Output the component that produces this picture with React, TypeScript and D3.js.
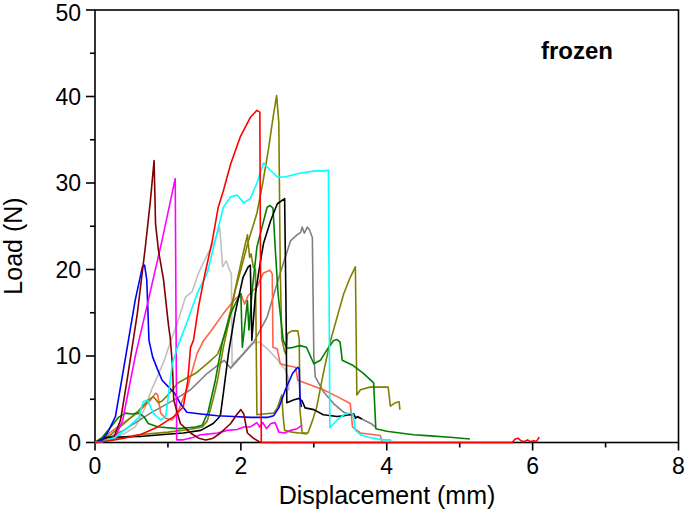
import React from "react";
import * as d3 from "d3";

type Pt = [number, number];

// Displacement (mm), Load (N)
const brown: Pt[] = [[0,0],[0.15,0.2],[0.26,0.6],[0.35,2.6],[0.44,7.2],[0.58,14.9],[0.69,22.6],[0.76,28],[0.81,32.6],[0.83,25.3],[0.87,22.2],[0.94,18.8],[0.99,14.9],[1.01,13.4],[1.03,12.2],[1.06,9.1],[1.08,4.9],[1.17,2.2],[1.31,1.1],[1.42,0.5],[1.52,0.3],[1.62,0.5],[1.72,1.1],[1.86,2.2],[1.95,3.3],[2.0,3.8],[2.04,3.3],[2.09,1.1],[2.17,0.5],[2.27,0]];
const magenta: Pt[] = [[0,0],[0.1,0.1],[0.2,0.3],[0.28,0.6],[0.38,2.6],[0.55,9.9],[0.73,16.4],[0.92,23.4],[1.1,30.5],[1.12,0.3],[1.2,0.3],[1.35,0.6],[1.45,0.9],[1.58,1.0],[1.68,1.1],[1.81,1.4],[1.95,1.5],[2.04,1.8],[2.13,1.8],[2.22,2.3],[2.26,1.8],[2.3,2.3],[2.35,1.6],[2.41,2.2],[2.47,2.3],[2.52,1.2],[2.6,1.1],[2.68,1.4],[2.77,1.6],[2.84,2.0]];
const blue: Pt[] = [[0,0],[0.1,0.3],[0.17,1.1],[0.28,3],[0.42,9.9],[0.55,16.4],[0.65,20.3],[0.68,20.5],[0.71,18.8],[0.74,11.8],[0.79,9.9],[0.86,8.4],[0.92,7.2],[1.01,6.4],[1.1,5.6],[1.17,4.5],[1.26,3.5],[1.45,3.3],[1.68,3.1],[1.9,3.0],[2.13,2.9],[2.36,2.9],[2.45,3.1],[2.52,4.0],[2.61,6.1],[2.71,8.0],[2.78,8.7],[2.8,8.5],[2.81,5.3],[2.83,4.1]];
const red: Pt[] = [[0,0],[0.2,0.2],[0.4,0.5],[0.62,0.9],[0.86,1.8],[1.08,3.0],[1.21,4.1],[1.27,7],[1.31,11.0],[1.35,11.8],[1.42,15.7],[1.51,19.6],[1.61,23.4],[1.69,27.2],[1.76,29.1],[1.86,32.2],[1.99,35.3],[2.13,37.6],[2.22,38.4],[2.26,38.2],[2.28,0],[5.72,0],[5.76,0.4],[5.8,0.5],[5.84,0.2],[5.88,0.1],[5.93,0.3],[5.97,0.1],[6.02,0.2],[6.05,0.1],[6.09,0.6]];
const cyan: Pt[] = [[0,0],[0.1,0.1],[0.28,0.6],[0.46,1.8],[0.6,2.9],[0.66,4.7],[0.72,4.9],[0.8,3.4],[0.9,2.6],[0.97,3.0],[1.01,5.7],[1.06,9.1],[1.13,11.0],[1.27,14.1],[1.40,17.2],[1.54,19.6],[1.68,24.5],[1.76,27.2],[1.86,28.4],[1.95,28.6],[2.04,27.7],[2.13,28.2],[2.22,30],[2.31,32.3],[2.4,31.5],[2.5,30.7],[2.6,30.7],[2.79,31.1],[3.02,31.4],[3.16,31.4],[3.2,31.5],[3.22,1.7],[3.32,2.6],[3.41,3.2],[3.5,3.4],[3.54,3.2],[3.57,1.4],[3.64,0.9],[3.75,0.6],[3.95,0.3],[4.05,0.3],[4.07,0]];
const oliveA: Pt[] = [[0,0],[0.3,0.5],[0.6,0.9],[1.0,1.2],[1.3,1.5],[1.47,1.8],[1.54,2.5],[1.62,5],[1.68,7.2],[1.76,11],[1.85,14.5],[1.92,17.5],[2.0,20],[2.1,23.2],[2.22,26.5],[2.3,30],[2.38,34],[2.44,37.5],[2.49,40.1],[2.52,37],[2.54,20],[2.56,12],[2.6,10.5],[2.62,10.2],[2.64,12.6],[2.7,12.9],[2.78,12.9],[2.8,12],[2.81,3.8],[2.84,1.1],[2.92,1.1],[2.98,2.5],[3.04,4.1],[3.13,8.0],[3.22,11.5],[3.32,14.5],[3.41,17.2],[3.5,19.1],[3.57,20.3],[3.59,5.5],[3.64,6.1],[3.77,6.4],[4.02,6.4],[4.05,4.2],[4.12,4.6],[4.17,4.7],[4.18,3.8]];
const oliveB: Pt[] = [[0,0],[0.2,0.8],[0.4,2.2],[0.6,3.7],[0.73,4.9],[0.8,5.3],[0.87,4.6],[0.92,4.8],[1.0,5.5],[1.14,6.9],[1.38,8.0],[1.55,9.2],[1.68,10.2],[1.77,12.2],[1.86,15.3],[1.95,18.8],[2.04,22.2],[2.09,24],[2.12,21.4],[2.14,21.8],[2.17,20.3],[2.2,20],[2.22,3.2],[2.3,3.3],[2.45,3.4],[2.5,4.0],[2.56,5.5],[2.58,3],[2.6,1.4],[2.7,1.2],[2.8,1.1],[2.91,1.0]];
const green: Pt[] = [[0,0],[0.1,0.6],[0.18,1.4],[0.32,2.9],[0.42,3.4],[0.5,3.3],[0.6,3.4],[0.67,3.0],[0.73,2.2],[0.87,1.8],[1.15,1.6],[1.38,1.8],[1.47,2.0],[1.55,3.5],[1.65,7.2],[1.75,11.8],[1.86,14.9],[1.95,16.5],[2.0,17.2],[2.02,11],[2.09,16.4],[2.11,13],[2.16,18],[2.22,22.6],[2.29,24.9],[2.36,27.2],[2.4,27.4],[2.44,27.1],[2.47,22.6],[2.51,17.2],[2.58,11.8],[2.63,10.9],[2.72,11.0],[2.81,11.2],[2.9,11],[3.0,9.1],[3.09,9.5],[3.18,10.7],[3.27,11.8],[3.32,11.9],[3.36,11.6],[3.39,9.5],[3.54,8.9],[3.68,8.0],[3.82,6.9],[3.85,1.6],[4.0,1.3],[4.18,1.1],[4.37,0.9],[4.55,0.8],[4.87,0.6],[5.14,0.4]];
const black: Pt[] = [[0,0],[0.17,0.6],[0.62,0.7],[0.9,0.9],[1.21,1.1],[1.45,1.4],[1.62,2.2],[1.69,2.8],[1.72,3.2],[1.76,5.7],[1.83,10.3],[1.92,14.9],[2.03,19.1],[2.1,20.3],[2.13,20.5],[2.15,11.8],[2.2,17.2],[2.25,20],[2.31,23],[2.41,25.7],[2.5,27.6],[2.6,28.2],[2.62,14.9],[2.63,4.6],[2.72,4.9],[2.79,5.1],[2.84,4.8],[2.88,4.0],[3.0,3.8],[3.13,3.2],[3.32,3.0],[3.41,3.1],[3.55,3.3],[3.57,2.8],[3.6,3.0],[3.66,2.7]];
const gray: Pt[] = [[0,0],[0.2,0.6],[0.39,1.4],[0.76,3.4],[1.08,4.9],[1.31,6.1],[1.54,8.0],[1.77,9.5],[1.86,8.6],[2.04,10.3],[2.17,11.5],[2.36,14.5],[2.54,19.6],[2.68,23.3],[2.77,24],[2.82,24.3],[2.84,24.9],[2.87,24.2],[2.91,24.9],[2.94,24.6],[2.98,23.7],[3.0,10],[3.02,7.6],[3.13,5.9],[3.27,4.5],[3.41,3.5],[3.64,2.8],[3.8,2.1],[3.84,1.8]];
const lightgray: Pt[] = [[0,0],[0.2,0.4],[0.4,1.0],[0.55,1.8],[0.62,2.8],[0.69,4.1],[0.78,6.2],[0.85,7.5],[0.95,9.5],[1.01,11],[1.14,14.1],[1.24,16.8],[1.33,17.4],[1.42,19.6],[1.55,21.9],[1.65,23.4],[1.71,24.9],[1.75,20.3],[1.8,21],[1.84,20],[1.87,19.5],[1.88,9.0],[2.0,10.0],[2.15,11.5],[2.25,11.6],[2.38,10.7],[2.51,9.5],[2.61,8.4],[2.65,7.5],[2.66,6.0]];
const salmon: Pt[] = [[0,0],[0.15,0.8],[0.31,1.8],[0.58,3.4],[0.76,4.9],[0.83,5.7],[0.86,5.5],[0.9,3.4],[0.97,2.8],[1.06,2.6],[1.15,3.8],[1.27,6.4],[1.40,10.3],[1.49,11.8],[1.6,13],[1.76,14.9],[1.9,16.4],[2.0,17.2],[2.05,16],[2.1,17],[2.22,18],[2.31,19.6],[2.4,19.9],[2.43,19.5],[2.44,11],[2.5,10.8],[2.54,9.1],[2.63,8.9],[2.75,8.7],[2.78,7.2],[2.91,6.8],[3.13,6.1],[3.32,5.3],[3.5,4.5],[3.53,1.8],[3.64,1.1],[3.91,0.8],[3.94,0]];

const seriesList: { data: Pt[]; color: string }[] = [
  { data: lightgray, color: "#c0c0c0" },
  { data: gray, color: "#808080" },
  { data: salmon, color: "#ff6347" },
  { data: oliveB, color: "#808000" },
  { data: oliveA, color: "#808000" },
  { data: green, color: "#008000" },
  { data: black, color: "#000000" },
  { data: blue, color: "#0000ff" },
  { data: magenta, color: "#ff00ff" },
  { data: brown, color: "#800000" },
  { data: cyan, color: "#00ffff" },
  { data: red, color: "#ff0000" },
];

const xMajor = [0, 2, 4, 6, 8];
const xMinor = [1, 3, 5, 7];
const yMajor = [0, 10, 20, 30, 40, 50];
const yMinor = [5, 15, 25, 35, 45];

export default function App() {
  const x = d3.scaleLinear().domain([0, 8]).range([95, 678.5]);
  const y = d3.scaleLinear().domain([0, 50]).range([442.5, 10]);
  const line = d3.line<Pt>().x((d) => x(d[0])).y((d) => y(d[1]));
  const font = "'Liberation Sans', Arial, sans-serif";
  return (
    <svg width={685} height={522} style={{ position: "absolute", left: 0, top: 0, background: "#fff" }}>
      <rect x={0} y={0} width={685} height={522} fill="#fff" />
      <rect x={x(0)} y={y(50)} width={x(8) - x(0)} height={y(0) - y(50)} fill="none" stroke="#000" strokeWidth={1.6} />
      {yMajor.map((v) => (
        <line key={"ym" + v} x1={x(0) - 9} x2={x(0)} y1={y(v)} y2={y(v)} stroke="#000" strokeWidth={1.6} />
      ))}
      {yMinor.map((v) => (
        <line key={"yn" + v} x1={x(0) - 5} x2={x(0)} y1={y(v)} y2={y(v)} stroke="#000" strokeWidth={1.6} />
      ))}
      {xMajor.map((v) => (
        <line key={"xm" + v} x1={x(v)} x2={x(v)} y1={y(0)} y2={y(0) + 8} stroke="#000" strokeWidth={1.6} />
      ))}
      {xMinor.map((v) => (
        <line key={"xn" + v} x1={x(v)} x2={x(v)} y1={y(0)} y2={y(0) + 5} stroke="#000" strokeWidth={1.6} />
      ))}
      {yMajor.map((v) => (
        <text key={"yl" + v} x={81} y={Math.max(y(v), 13)} dy="0.35em" textAnchor="end" fontFamily={font} fontSize={23}>
          {v}
        </text>
      ))}
      {xMajor.map((v) => (
        <text key={"xl" + v} x={x(v)} y={466} dy="0.35em" textAnchor="middle" fontFamily={font} fontSize={23}>
          {v}
        </text>
      ))}
      <text x={387} y={495} dy="0.35em" textAnchor="middle" fontFamily={font} fontSize={25}>
        Displacement (mm)
      </text>
      <text transform="translate(13,246) rotate(-90)" dy="0.35em" textAnchor="middle" fontFamily={font} fontSize={25}>
        Load (N)
      </text>
      <text x={541} y={59} fontFamily={font} fontSize={24} fontWeight="bold">
        frozen
      </text>
      {seriesList.map((s, i) => (
        <path key={i} d={line(s.data) || ""} fill="none" stroke={s.color} strokeWidth={1.6} strokeLinejoin="round" />
      ))}
    </svg>
  );
}
